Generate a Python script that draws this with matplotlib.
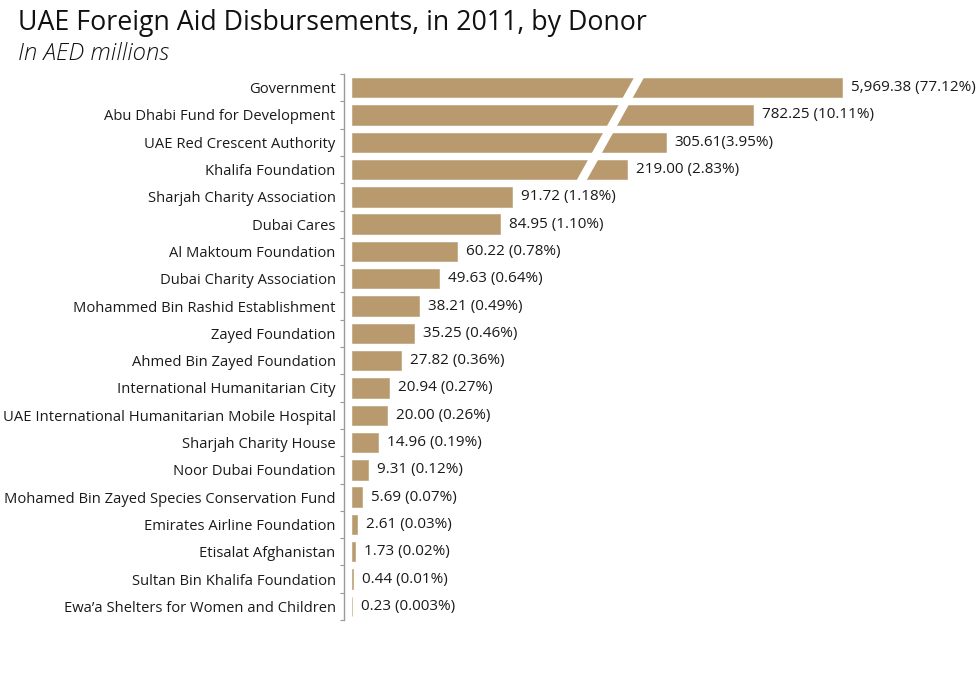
import numpy as np
import matplotlib
matplotlib.use("Agg")
import matplotlib.pyplot as plt
from matplotlib.patches import Polygon
from matplotlib.transforms import blended_transform_factory

plt.rcParams['font.family'] = ['Open Sans', 'DejaVu Sans']

# data
donors = [
    "Government", "Abu Dhabi Fund for Development", "UAE Red Crescent Authority",
    "Khalifa Foundation", "Sharjah Charity Association", "Dubai Cares",
    "Al Maktoum Foundation", "Dubai Charity Association",
    "Mohammed Bin Rashid Establishment", "Zayed Foundation",
    "Ahmed Bin Zayed Foundation", "International Humanitarian City",
    "UAE International Humanitarian Mobile Hospital", "Sharjah Charity House",
    "Noor Dubai Foundation", "Mohamed Bin Zayed Species Conservation Fund",
    "Emirates Airline Foundation", "Etisalat Afghanistan",
    "Sultan Bin Khalifa Foundation", "Ewa\u2019a Shelters for Women and Children",
]
amounts = [5969.38, 782.25, 305.61, 219.00, 91.72, 84.95, 60.22, 49.63, 38.21,
           35.25, 27.82, 20.94, 20.00, 14.96, 9.31, 5.69, 2.61, 1.73, 0.44, 0.23]
shares = ["77.12%", "10.11%", "3.95%", "2.83%", "1.18%", "1.10%", "0.78%",
          "0.64%", "0.49%", "0.46%", "0.36%", "0.27%", "0.26%", "0.19%",
          "0.12%", "0.07%", "0.03%", "0.02%", "0.01%", "0.003%"]
value_labels = [f"{a:,.2f} ({s})" for a, s in zip(amounts, shares)]
value_labels[2] = "305.61(3.95%)"

bar_color = "#B89A6E"

# broken axis: linear up to 100, squeezed (tanh of log) above
brk, c, s = 100.0, 197.0, 2.6
def fwd(x):
    x = np.asarray(x, dtype=float)
    xs = np.maximum(x, brk)
    return np.where(x <= brk, x, brk + c * np.tanh(np.log(xs / brk) / s))
def inv(y):
    y = np.asarray(y, dtype=float)
    t = np.clip((y - brk) / c, 0, 0.999999)
    return np.where(y <= brk, y, brk * np.exp(s * np.arctanh(t)))

lo, hi = -4.6, 290.0   # limits in scaled units
ax_w = 1.745 * (hi - lo)

fig = plt.figure(figsize=(9.76, 6.91), dpi=100)
ax = fig.add_axes([344 / 976, 71 / 691, ax_w / 976, 546 / 691])
ax.set_xscale('function', functions=(fwd, inv))

ypos = np.arange(len(donors))
ax.barh(ypos, amounts, height=0.71, color=bar_color, edgecolor=bar_color,
        linewidth=0.4, left=0)
ax.set_xlim(float(inv(lo)), float(inv(hi)))
ax.set_ylim(19.5, -0.5)

for i, (a, lab) in enumerate(zip(amounts, value_labels)):
    ax.annotate(lab, (a, i), xytext=(6.5, 0), textcoords='offset points',
                va='center', ha='left', fontsize=11, color='#1a1a1a',
                annotation_clip=False)

# white slash across the broken bars
tr = blended_transform_factory(ax.transAxes, ax.transData)
x_top = (641 - 344) / ax_w
x_bot = (580 - 344) / ax_w
hw = 5 / ax_w
slash = Polygon([(x_top - hw, -0.5), (x_top + hw, -0.5),
                 (x_bot + hw, 3.5), (x_bot - hw, 3.5)],
                closed=True, facecolor='white', edgecolor='none',
                transform=tr, zorder=3)
ax.add_patch(slash)

ax.set_yticks(ypos)
ax.set_yticklabels(donors, fontsize=10.6, color='#1a1a1a')
ax.tick_params(axis='y', which='major', length=0, pad=6)
ax.set_yticks(np.arange(-0.5, 20, 1), minor=True)
ax.tick_params(axis='y', which='minor', length=3, width=0.8, color='#9a9a9a')
ax.xaxis.set_visible(False)
for sp in ['top', 'right', 'bottom']:
    ax.spines[sp].set_visible(False)
ax.spines['left'].set_color('#9a9a9a')
ax.spines['left'].set_linewidth(1)

fig.text(18 / 976, 1 - 23 / 691, "UAE Foreign Aid Disbursements, in 2011, by Donor",
         fontsize=19.3, va='center', ha='left', color='#111111')
fig.text(18 / 976, 1 - 54 / 691, "In AED millions", fontsize=17.2,
         style='italic', fontweight='light', va='center', ha='left', color='#111111')

fig.savefig("out.png", dpi=100)
